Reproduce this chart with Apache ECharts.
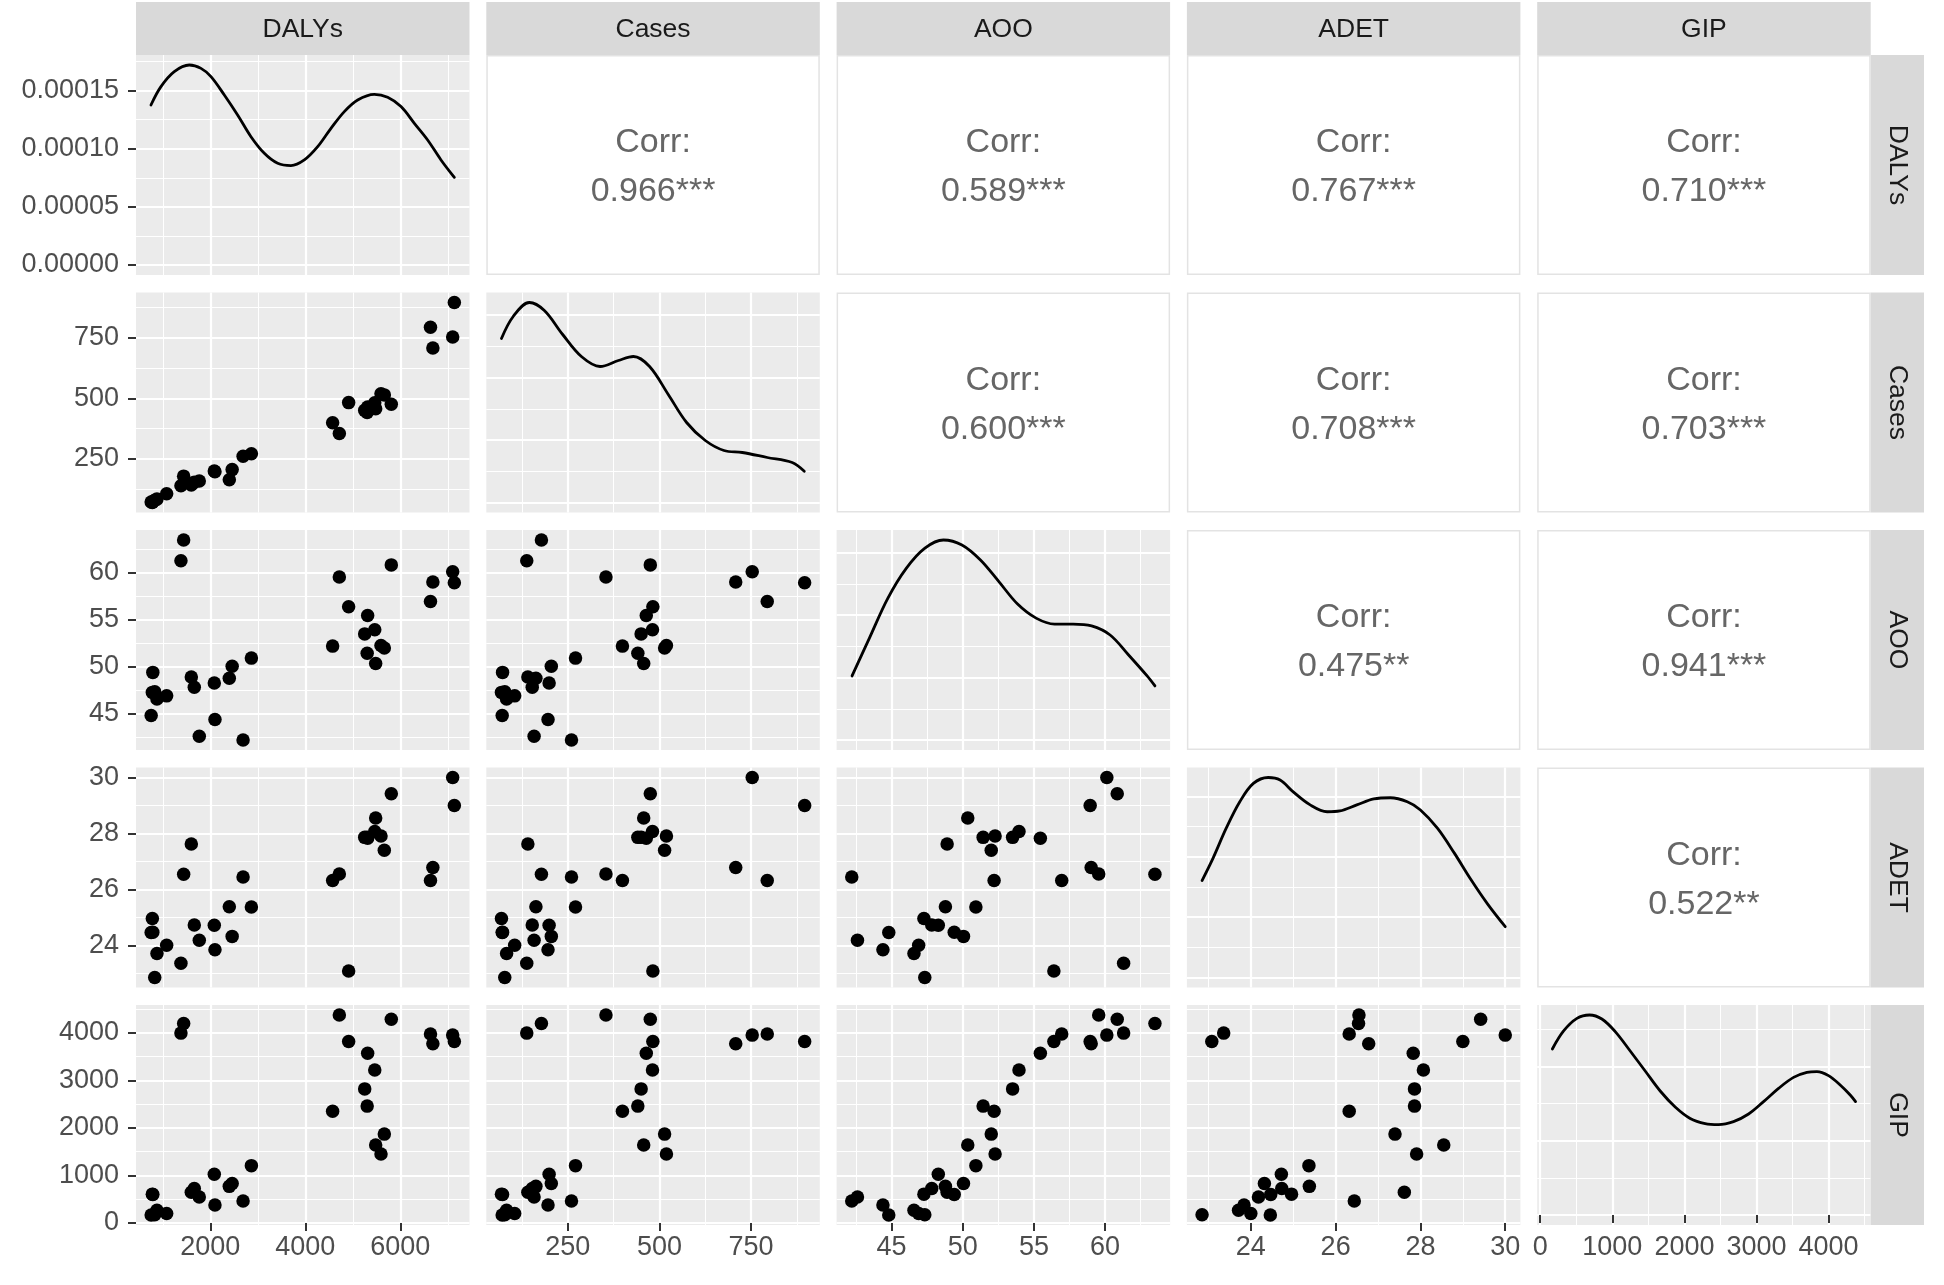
<!DOCTYPE html>
<html>
<head>
<meta charset="utf-8">
<script src="https://cdn.jsdelivr.net/npm/echarts@6/dist/echarts.min.js"></script>
<style>html,body{margin:0;padding:0;background:#ffffff}#c{width:1944px;height:1285px}</style>
</head>
<body>
<div id="c"></div>
<script>
// ---- data (one entry per observation) ----
const variables = ['DALYs', 'Cases', 'AOO', 'ADET', 'GIP'];
const DALYs = [4575, 4716, 4912, 5810, 5312, 5462, 5250, 5302, 5481, 5593, 5663, 6635, 6685, 7102, 7137,
               1382, 1439, 780, 790, 755, 830, 877, 1081, 1663, 1600, 1768, 2084, 2098, 2400, 2460, 2690, 2865];
const Cases = [399, 354, 482, 475, 464, 481, 450, 441, 457, 519, 514, 794, 708, 753, 896,
               138, 178, 69, 72, 71, 78, 83, 105, 153, 141, 158, 199, 196, 163, 205, 260, 271];
const AOO = [52.2, 59.55, 56.4, 60.85, 55.45, 53.95, 53.5, 51.43, 50.35, 52.27, 52.0, 56.95, 59.02, 60.12, 58.95,
             61.3, 63.5, 47.27, 49.4, 44.8, 47.33, 46.57, 46.9, 47.82, 48.9, 42.6, 48.28, 44.39, 48.78, 50.05, 42.2, 50.92];
const ADET = [26.32, 26.55, 23.08, 29.42, 27.83, 28.07, 27.86, 27.86, 28.55, 27.91, 27.4, 26.32, 26.78, 30.0, 29.0,
              23.36, 26.54, 24.96, 24.47, 24.46, 22.85, 23.71, 24.0, 24.73, 27.62, 24.18, 24.72, 23.84, 25.38, 24.32, 26.44, 25.37];
const GIP = [2349, 4374, 3817, 4285, 3570, 3217, 2820, 2458, 1640, 1450, 1869, 3975, 3770, 3951, 3815,
             3993, 4197, 607, 600, 168, 175, 268, 198, 727, 645, 545, 1027, 380, 770, 832, 463, 1206];

// ---- density curves ----
const dalysDensX = [751, 961, 1242, 1558, 1804, 2014, 2295, 2575, 2856, 3137, 3418, 3698, 3979, 4260, 4540, 4821, 5102, 5453, 5733, 6014, 6295, 6575, 6856, 7137];
const dalysDensY = [0.0001377, 0.0001535, 0.0001664, 0.0001721, 0.0001692, 0.0001621, 0.0001463, 0.0001291, 0.0001104, 0.0000961, 0.0000875, 0.0000855,
                    0.0000904, 0.0001018, 0.0001176, 0.0001320, 0.0001420, 0.0001469, 0.0001443, 0.0001363, 0.0001219, 0.0001076, 0.0000904, 0.0000754];
const casesDensX = [69, 101, 145, 186, 236, 287, 338, 388, 429, 473, 524, 574, 625, 676, 726, 794, 862, 895];
const casesDensY = [0.001312, 0.001488, 0.0016, 0.001536, 0.001344, 0.001168, 0.001088, 0.001136, 0.001168, 0.001088, 0.000864, 0.00064,
                    0.000496, 0.000416, 0.0004, 0.00036, 0.00032, 0.00025];
const aooDensX = [42.22, 43.44, 44.74, 46.04, 47.34, 48.64, 49.94, 51.24, 52.55, 53.85, 55.15, 56.45, 57.75, 59.05, 60.35, 61.65, 62.95, 63.5];
const aooDensY = [0.0205, 0.0326, 0.0454, 0.055, 0.0614, 0.064, 0.0624, 0.0576, 0.0506, 0.0435, 0.039, 0.0371, 0.0371, 0.0365, 0.0336, 0.0272, 0.0205, 0.0173];
const adetDensX = [22.85, 23.11, 23.42, 23.74, 24.06, 24.41, 24.69, 25.0, 25.4, 25.8, 26.1, 26.5, 26.9, 27.29, 27.69, 28.0, 28.4, 28.8, 29.19, 29.59, 30.0];
const adetDensY = [0.0804, 0.099, 0.1238, 0.1457, 0.1609, 0.1658, 0.1637, 0.1539, 0.1431, 0.1374, 0.1381, 0.1431, 0.148, 0.149, 0.1457, 0.1389,
                   0.1238, 0.1031, 0.0812, 0.0606, 0.0421];
const gipDensX = [168, 324, 509, 684, 855, 1040, 1248, 1456, 1664, 1872, 2080, 2288, 2473, 2681, 2890, 3098, 3306, 3514, 3699, 3838, 3999, 4161, 4300, 4374];
const gipDensY = [0.0002233, 0.0002475, 0.0002644, 0.000269, 0.0002636, 0.0002467, 0.0002206, 0.0001937, 0.0001668, 0.0001453, 0.0001299, 0.0001229,
                  0.0001216, 0.0001256, 0.0001358, 0.0001525, 0.0001703, 0.0001851, 0.0001918, 0.0001929, 0.0001875, 0.0001749, 0.0001614, 0.0001525];

// ---- tick values ----
const dalysBreaks = [2000, 4000, 6000];
const casesBreaks = [250, 500, 750];
const aooBreaks = [45, 50, 55, 60];
const adetBreaks = [24, 26, 28, 30];
const gipBreaks = [0, 1000, 2000, 3000, 4000];
const dalysDensBreaks = [0, 0.00005, 0.0001, 0.00015];
const casesDensBreaks = [0, 0.0005, 0.001, 0.0015];
const aooDensBreaks = [0, 0.02, 0.04, 0.06];
const adetDensBreaks = [0, 0.05, 0.1, 0.15];
const gipDensBreaks = [0, 0.0001, 0.0002];

// ---- correlation labels (upper triangle, row by row) ----
const corrHeader = 'Corr:';
const corrValues = ['0.966***', '0.589***', '0.767***', '0.710***',
                    '0.600***', '0.708***', '0.703***',
                    '0.475**', '0.941***',
                    '0.522**'];

// ---- build ----
const cols = [DALYs, Cases, AOO, ADET, GIP];
const breaks = [dalysBreaks, casesBreaks, aooBreaks, adetBreaks, gipBreaks];
const densX = [dalysDensX, casesDensX, aooDensX, adetDensX, gipDensX];
const densY = [dalysDensY, casesDensY, aooDensY, adetDensY, gipDensY];
const densBreaks = [dalysDensBreaks, casesDensBreaks, aooDensBreaks, adetDensBreaks, gipDensBreaks];

const FONT = '"Liberation Sans", Arial, Helvetica, sans-serif';
const LEFT0 = 136, COLSTEP = 350.3, W = 333.5;
const TOP0 = 55, ROWSTEP = 237.5, H = 220;
const colLeft = j => LEFT0 + j * COLSTEP;
const rowTop = i => TOP0 + i * ROWSTEP;

function extent(a) {
  const mn = Math.min(...a), mx = Math.max(...a), r = mx - mn;
  return [mn - 0.05 * r, mx + 0.05 * r];
}
function minorOf(maj, ext) {
  const s = maj[1] - maj[0];
  const out = [];
  for (let v = maj[0] - s / 2; v <= ext[1] + 1e-12; v += s) {
    const w = Math.round(v * 1e10) / 1e10;
    if (w >= ext[0] && w <= ext[1]) out.push(w);
  }
  return out;
}
function axisCfg(g, pos, ext, vals, major, showLabels, densFmt) {
  return {
    type: 'value', gridIndex: g, position: pos, min: ext[0], max: ext[1],
    axisLine: { show: false },
    axisTick: { show: showLabels, customValues: vals, length: 8, inside: false,
                lineStyle: { color: '#333333', width: 2 } },
    axisLabel: { show: showLabels, customValues: vals,
                 formatter: densFmt ? (v => Number(v).toFixed(5)) : (v => String(v)),
                 color: '#4D4D4D', fontSize: 27, fontFamily: FONT,
                 padding: (pos === 'left' ? [5, 0, 0, 0] : 0),
                 margin: (pos === 'left' ? 17 : 9) },
    splitLine: { show: true, lineStyle: { color: '#FFFFFF', width: major ? 2.2 : 1.1 } },
    minorTick: { show: false }, minorSplitLine: { show: false },
    axisPointer: { show: false }
  };
}

const grids = [], xAxes = [], yAxes = [], series = [], graphics = [];
let corrIdx = 0;

for (let i = 0; i < 5; i++) {
  for (let j = 0; j < 5; j++) {
    const L = colLeft(j), T = rowTop(i);
    if (i < j) {
      graphics.push({ type: 'rect', z: 1,
        shape: { x: L + 0.75, y: T + 0.75, width: W - 1.5, height: H - 1.5 },
        style: { fill: '#FFFFFF', stroke: '#E3E3E3', lineWidth: 1.5 } });
      graphics.push({ type: 'text', z: 2, x: L + W / 2, y: T + H / 2 - 22,
        style: { text: corrHeader, fontSize: 34, fontFamily: FONT, fill: '#666666', align: 'center', verticalAlign: 'middle' } });
      graphics.push({ type: 'text', z: 2, x: L + W / 2, y: T + H / 2 + 27,
        style: { text: corrValues[corrIdx++], fontSize: 34, fontFamily: FONT, fill: '#666666', align: 'center', verticalAlign: 'middle' } });
      continue;
    }
    const g = grids.length;
    grids.push({ left: L, top: T, width: W, height: H, show: true,
                 backgroundColor: '#EBEBEB', borderWidth: 0, borderColor: 'transparent',
                 containLabel: false, outerBoundsMode: 'none' });
    const xe = extent(cols[j]);
    let ye, yMaj;
    if (i === j) {
      const pk = Math.max(...densY[j]);
      ye = [-0.05 * pk, 1.05 * pk];
      yMaj = densBreaks[j];
    } else {
      ye = extent(cols[i]);
      yMaj = breaks[i];
    }
    const xMaj = breaks[j];
    const xi = xAxes.length, yi = yAxes.length;
    xAxes.push(axisCfg(g, 'bottom', xe, xMaj, true, i === 4, false));
    xAxes.push(axisCfg(g, 'top', xe, minorOf(xMaj, xe), false, false, false));
    yAxes.push(axisCfg(g, 'left', ye, yMaj, true, j === 0, i === 0));
    yAxes.push(axisCfg(g, 'right', ye, minorOf(yMaj, ye), false, false, false));
    if (i === j) {
      series.push({ type: 'line', xAxisIndex: xi, yAxisIndex: yi,
        data: densX[j].map((x, k) => [x, densY[j][k]]),
        smooth: 0.35, showSymbol: false, symbol: 'none',
        lineStyle: { color: '#000000', width: 2.8, cap: 'round', join: 'round' }, silent: true, z: 3 });
    } else {
      series.push({ type: 'scatter', xAxisIndex: xi, yAxisIndex: yi,
        data: cols[j].map((x, k) => [x, cols[i][k]]),
        symbol: 'circle', symbolSize: 13.5, itemStyle: { color: '#000000', opacity: 1 },
        silent: true, z: 3 });
    }
  }
}

// strips
for (let j = 0; j < 5; j++) {
  graphics.push({ type: 'rect', z: 1, shape: { x: colLeft(j), y: 2, width: W, height: 53 },
                  style: { fill: '#D9D9D9' } });
  graphics.push({ type: 'text', z: 2, x: colLeft(j) + W / 2, y: 30,
                  style: { text: variables[j], fontSize: 26.5, fontFamily: FONT, fill: '#1A1A1A', align: 'center', verticalAlign: 'middle' } });
}
for (let i = 0; i < 5; i++) {
  graphics.push({ type: 'rect', z: 1, shape: { x: 1870.7, y: rowTop(i), width: 53.3, height: H },
                  style: { fill: '#D9D9D9' } });
  graphics.push({ type: 'text', z: 2, x: 1897.5, y: rowTop(i) + H / 2, rotation: -Math.PI / 2,
                  style: { text: variables[i], fontSize: 26.5, fontFamily: FONT, fill: '#1A1A1A', align: 'center', verticalAlign: 'middle' } });
}

const chart = echarts.init(document.getElementById('c'), null, { renderer: 'canvas', width: 1944, height: 1285 });
chart.setOption({
  animation: false,
  backgroundColor: '#FFFFFF',
  textStyle: { fontFamily: FONT },
  grid: grids,
  xAxis: xAxes,
  yAxis: yAxes,
  series: series,
  graphic: { elements: graphics }
});
</script>
</body>
</html>
